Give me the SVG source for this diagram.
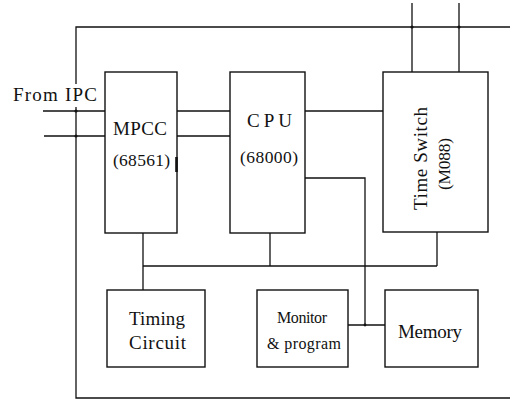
<svg xmlns="http://www.w3.org/2000/svg" width="516" height="401" viewBox="0 0 516 401">
<style>
.b{fill:#fff;stroke:#111;stroke-width:1.4}
.w{fill:none;stroke:#111;stroke-width:1.3}
.t{font-family:"Liberation Serif","Times New Roman",serif;font-size:19px;fill:#111}
.p{font-size:17.5px}
.s{font-size:16px}
.m{text-anchor:middle}
.d{fill:#111}
</style>
<rect width="516" height="401" fill="#fff"/>
<g id="connectors" class="w">
<path d="M76 84V27H510"/>
<path d="M76 107V398H510"/>
<path d="M412 3V72M459 3V72"/>
<path d="M43 111H105M44 136H105"/>
<path d="M177 111H230M177 136H230"/>
<path d="M305 111H383"/>
<path d="M305 178H365V325"/>
<path d="M348 325H385"/>
<path d="M143 266H437"/>
<path d="M143 233V290M270 233V266M437 232V266"/>
<g class="d" stroke="none">
<circle cx="76" cy="111" r="1.6"/>
<circle cx="76" cy="136" r="1.6"/>
<circle cx="412" cy="27" r="1.6"/>
<circle cx="459" cy="27" r="1.6"/>
<circle cx="365" cy="325" r="1.4"/>
</g>
</g>
<text class="t" x="13" y="101" textLength="84">From IPC</text>
<g id="mpcc">
<rect class="b" x="105" y="72" width="72" height="161"/>
<path d="M176.5 157V172" stroke="#111" stroke-width="2.6"/>
<text class="t m" x="140" y="135" textLength="54">MPCC</text>
<text class="t p m" x="141.5" y="166" textLength="57">(68561)</text>
</g>
<g id="cpu">
<rect class="b" x="230" y="72" width="75" height="161"/>
<text class="t m" x="269.5" y="127" textLength="45">CPU</text>
<text class="t p m" x="269" y="163" textLength="58">(68000)</text>
</g>
<g id="timeswitch">
<rect class="b" x="383" y="72" width="105" height="160"/>
<text class="t m" transform="translate(427,158.5) rotate(-90)" textLength="103">Time Switch</text>
<text class="t p m" transform="translate(450,164) rotate(-90)" textLength="52">(M088)</text>
</g>
<g id="timing">
<rect class="b" x="107" y="290" width="98" height="77"/>
<text class="t m" x="157" y="325" textLength="56">Timing</text>
<text class="t m" x="157.5" y="349" textLength="57">Circuit</text>
</g>
<g id="monitor">
<rect class="b" x="257" y="290" width="91" height="77"/>
<text class="t s m" x="302" y="323" textLength="50">Monitor</text>
<text class="t s m" x="304" y="349" textLength="74">&amp; program</text>
</g>
<g id="memory">
<rect class="b" x="385" y="290" width="93" height="77"/>
<text class="t m" x="430" y="338" textLength="64">Memory</text>
</g>
</svg>
